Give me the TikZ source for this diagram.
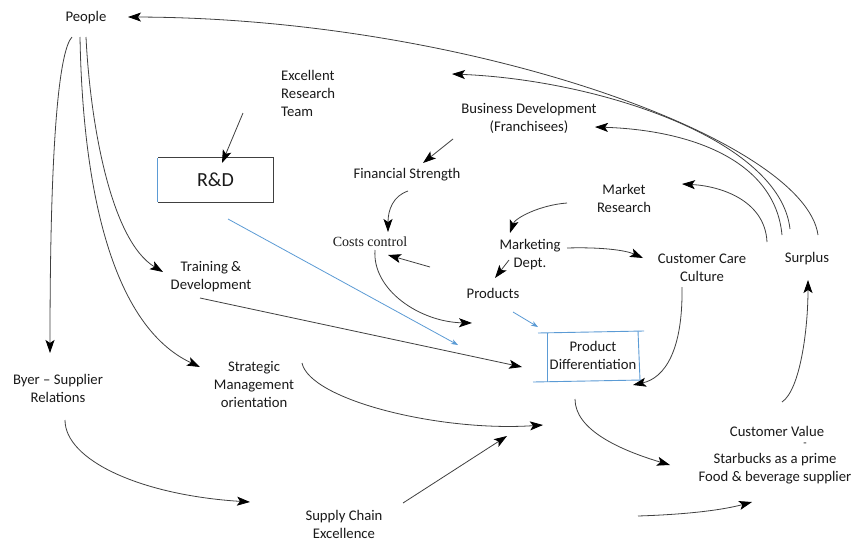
\documentclass[tikz,border=0pt]{standalone}
\usepackage{fontspec}
\setmainfont{Carlito}
\newfontfamily\ccfont{Liberation Serif}
\usetikzlibrary{arrows.meta}
\definecolor{ln}{HTML}{404040}
\definecolor{bl}{HTML}{5B9BD5}
\definecolor{tx}{HTML}{1A1A1A}
\begin{document}
\begin{tikzpicture}[x=1pt,y=-1pt,
  lbl/.style={font=\fontsize{14.7pt}{18pt}\selectfont, text=tx, align=center, inner sep=0pt},
  con/.style={draw=ln, line width=0.8pt, -{Stealth[length=13pt,width=9pt,inset=3pt,color=black]}},
  bcon/.style={draw=bl, line width=0.8pt, -{Stealth[length=7pt,width=5pt]}},
  boxl/.style={draw=bl, line width=0.9pt},
]
\useasboundingbox[fill=white] (0,0) rectangle (854,541);

% ---------- nodes ----------
\node[lbl] (people) at (86,18) {People};
\node[lbl, align=left, anchor=west] (ert) at (281,93) {Excellent\\Research\\Team};
\node[minimum width=115pt, minimum height=44pt, inner sep=0pt] (rd) at (215.5,180) {};
\node[font=\fontsize{20pt}{24pt}\selectfont, text=tx] at (rd) {R\&D};
\node[lbl] (bizdev) at (529,118) {Business Development\\(Franchisees)};
\node[lbl] (fin) at (407,175) {Financial Strength};
\node[lbl] (mr) at (624,198) {Market\\Research};
\node[lbl, font=\ccfont\fontsize{14pt}{17pt}\selectfont] (cost) at (370,242) {Costs control};
\node[lbl] (mkt) at (530,255) {Marketing\\Dept.};
\node[lbl] (prod) at (493,293) {Products};
\node[lbl] (ccc) at (702,268) {Customer Care\\Culture};
\node[lbl] (surplus) at (807,259) {Surplus};
\node[lbl] (train) at (211,277) {Training \&\\Development};
\node[lbl] (pd) at (593,355) {Product\\Differentiation};
\node[lbl] (bsr) at (58,388) {Byer -- Supplier\\Relations};
\node[lbl] (smo) at (254,384) {Strategic\\Management\\orientation};
\node[lbl] (cv) at (777,431) {Customer Value};
\node[lbl, font=\fontsize{11pt}{13pt}\selectfont] (dash) at (805,445) {-};
\node[lbl] (sb) at (775,469) {Starbucks as a prime\\Food \& beverage supplier};
\node[lbl] (sce) at (344,524) {Supply Chain\\Excellence};

% ---------- R&D box ----------
\draw[ln, line width=0.9pt] (rd.south west) -- (rd.south east) -- (rd.north east) -- (rd.north west);
\draw[boxl] (rd.north west) -- (rd.south west);

% ---------- Product Differentiation box ----------
\draw[boxl] (538,333) -- (644,331);
\draw[boxl] (533,382) -- (642,380);
\draw[boxl] (547,333) -- (547,382);
\draw[boxl] (638,331) -- (640,380);

% ---------- connector end points ----------
\coordinate (p1) at (72,37);
\coordinate (p2) at (80,37);
\coordinate (p3) at (86,37);
\coordinate (bsrT) at (50,353);
\coordinate (trainT) at (163,272);
\coordinate (smoT) at (200,367);
\coordinate (peopleT) at (128,17);
\coordinate (s1) at (818,235);
\coordinate (s2) at (790,229);
\coordinate (s3) at (782,235);
\coordinate (s4) at (767,242);
\coordinate (ertT) at (452,74);
\coordinate (bizT) at (595,127);
\coordinate (mrT) at (682,184);
\coordinate (ertS) at (243,113);
\coordinate (rdT) at (222,163);
\coordinate (bizS) at (453,139);
\coordinate (finT) at (423,163);
\coordinate (finS) at (408,191);
\coordinate (costT) at (388,232);
\coordinate (mrS) at (567,203);
\coordinate (mktT) at (510,233);
\coordinate (mktS) at (567,248);
\coordinate (cccT) at (643,258);
\coordinate (mktS2) at (509,260);
\coordinate (prodT) at (495,278);
\coordinate (prodS) at (430,267);
\coordinate (costT2) at (388,255);
\coordinate (costS) at (375,250);
\coordinate (costE) at (472,323);
\coordinate (rdS) at (228,219);
\coordinate (rdE) at (458,345);
\coordinate (trainS) at (200,298);
\coordinate (pdT1) at (522,367);
\coordinate (prodS2) at (513,312);
\coordinate (pdT2) at (538,327);
\coordinate (cccS) at (682,287);
\coordinate (pdT3) at (633,385);
\coordinate (bsrS) at (65,420);
\coordinate (sceT) at (250,502);
\coordinate (smoS) at (302,363);
\coordinate (midT1) at (543,425);
\coordinate (sceS) at (403,503);
\coordinate (midT2) at (507,436);
\coordinate (pdS) at (575,399);
\coordinate (cvT) at (670,465);
\coordinate (freeS) at (638,516);
\coordinate (sbT) at (752,502);
\coordinate (cvS) at (782,402);
\coordinate (surT) at (808,280);

% ---------- connectors ----------
\draw[con] (p1) .. controls (60,50) and (50,130) .. (bsrT);
\draw[con] (p3) .. controls (90,120) and (110,240) .. (trainT);
\draw[con] (p2) .. controls (82,150) and (100,320) .. (smoT);

\draw[con] (s1) .. controls (805,140) and (470,18) .. (peopleT);
\draw[con] (s2) .. controls (780,140) and (600,80) .. (ertT);
\draw[con] (s3) .. controls (775,160) and (690,130) .. (bizT);
\draw[con] (s4) .. controls (765,200) and (720,186) .. (mrT);

\draw[con] (ertS) -- (rdT);
\draw[con] (bizS) -- (finT);
\draw[con] (finS) .. controls (393,196) and (388,210) .. (costT);
\draw[con] (mrS) .. controls (540,205) and (515,218) .. (mktT);
\draw[con] (mktS) .. controls (600,247) and (625,250) .. (cccT);
\draw[con] (mktS2) -- (prodT);
\draw[con] (prodS) -- (costT2);
\draw[con] (costS) .. controls (372,290) and (420,322) .. (costE);
\draw[bcon] (rdS) -- (rdE);
\draw[con] (trainS) -- (pdT1);
\draw[bcon] (prodS2) -- (pdT2);
\draw[con] (cccS) .. controls (683,350) and (665,378) .. (pdT3);
\draw[con] (bsrS) .. controls (65,460) and (140,495) .. (sceT);
\draw[con] (smoS) .. controls (310,400) and (440,432) .. (midT1);
\draw[con] (sceS) -- (midT2);
\draw[con] (pdS) .. controls (575,430) and (620,450) .. (cvT);
\draw[con] (freeS) .. controls (700,514) and (730,508) .. (sbT);
\draw[con] (cvS) .. controls (800,390) and (808,330) .. (surT);
\end{tikzpicture}
\end{document}
